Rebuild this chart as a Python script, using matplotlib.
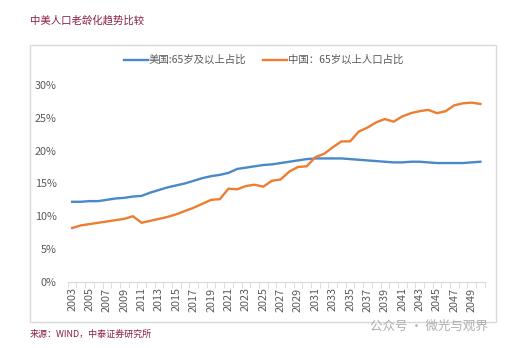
import matplotlib.pyplot as plt
from matplotlib.patches import Rectangle
from matplotlib.ticker import FuncFormatter, MultipleLocator

plt.rcParams['font.family'] = ['Noto Sans CJK SC', 'DejaVu Sans']

years = list(range(2003, 2051))
us_share = [12.2, 12.2, 12.3, 12.3, 12.5, 12.7, 12.8, 13.0, 13.1, 13.6, 14.0, 14.4,
            14.7, 15.0, 15.4, 15.8, 16.1, 16.3, 16.6, 17.2, 17.4, 17.6, 17.8, 17.9,
            18.1, 18.3, 18.5, 18.7, 18.8, 18.8, 18.8, 18.8, 18.7, 18.6, 18.5, 18.4,
            18.3, 18.2, 18.2, 18.3, 18.3, 18.2, 18.1, 18.1, 18.1, 18.1, 18.2, 18.3]
cn_share = [8.2, 8.6, 8.8, 9.0, 9.2, 9.4, 9.6, 10.0, 9.0, 9.3, 9.6, 9.9,
            10.3, 10.8, 11.3, 11.9, 12.5, 12.6, 14.2, 14.1, 14.6, 14.8, 14.5, 15.4,
            15.6, 16.8, 17.5, 17.6, 19.0, 19.5, 20.5, 21.4, 21.4, 22.9, 23.5, 24.3,
            24.8, 24.4, 25.2, 25.7, 26.0, 26.2, 25.7, 26.0, 26.9, 27.2, 27.3, 27.1]
tick_years = years[::2]

title = '中美人口老龄化趋势比较'
source = '来源：WIND，中泰证券研究所'
label_us = '美国:65岁及以上占比'
label_cn = '中国：65岁以上人口占比'

fig = plt.figure(figsize=(5.06, 3.48), dpi=100)
ax = fig.add_axes([0.134, 0.190, 0.824, 0.566])

# outer frame
fig.patches.append(Rectangle((30 / 506, 1 - 322 / 348), 466 / 506, 277 / 348,
                             transform=fig.transFigure, fill=False,
                             edgecolor='#d9d9d9', linewidth=1.0))

ax.plot(years, [v / 100 for v in us_share], color='#4a89c8', linewidth=1.7, label=label_us)
ax.plot(years, [v / 100 for v in cn_share], color='#ed7d31', linewidth=1.7, label=label_cn)

ax.set_xlim(2002.5, 2050.5)
ax.set_ylim(0, 0.30)
ax.yaxis.set_major_locator(MultipleLocator(0.05))
ax.yaxis.set_major_formatter(FuncFormatter(lambda v, p: f'{v * 100:.0f}%'))
ax.set_xticks(tick_years)
ax.set_xticklabels([str(y) for y in tick_years], rotation=90)
ax.set_xticks([y + 0.5 for y in range(2002, 2051)], minor=True)

for side in ['top', 'right', 'left']:
    ax.spines[side].set_visible(False)
ax.spines['bottom'].set_color('#d9d9d9')
ax.tick_params(axis='y', length=0, labelsize=7.8, labelcolor='#595959', pad=8)
ax.tick_params(axis='x', which='major', length=0, labelsize=7.8, labelcolor='#595959', pad=4)
ax.tick_params(axis='x', which='minor', length=4, color='#d9d9d9')

ax.legend(loc='upper center', bbox_to_anchor=(0.47, 1.2), ncol=2, frameon=False,
          fontsize=7.5, handlelength=2.3, handletextpad=0.1, columnspacing=1.6,
          labelcolor='#595959')

fig.text(30 / 506, 1 - 20 / 348, title, color='#8b2040', fontsize=7.5, va='center')
fig.text(30 / 506, 1 - 334 / 348, source, color='#8b2040', fontsize=6.5, va='center')
fig.text(370 / 506, 1 - 326 / 348, '公众号 · 微光与观界', color='#9a9a9a', fontsize=9,
         va='center', alpha=0.8)

plt.savefig('out.png', dpi=100)
